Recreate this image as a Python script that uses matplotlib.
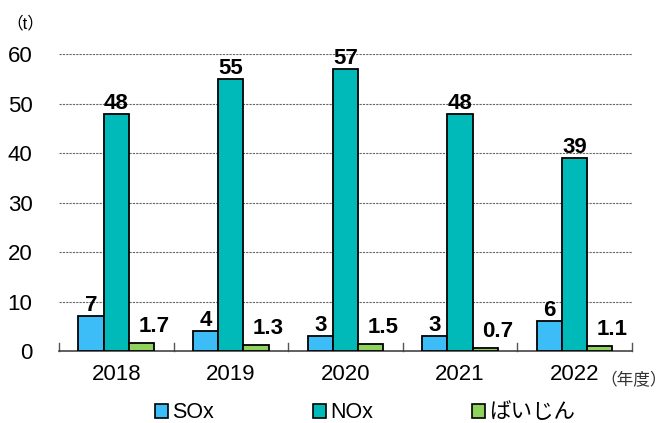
import numpy as np
import matplotlib.pyplot as plt
from matplotlib.patches import Patch

years = ["2018", "2019", "2020", "2021", "2022"]
sox = [7, 4, 3, 3, 6]
nox = [48, 55, 57, 48, 39]
dust = [1.7, 1.3, 1.5, 0.7, 1.1]
dust_labels = ["1.7", "1.3", "1.5", "0.7", "1.1"]

series_names = ["SOx", "NOx", "ばいじん"]
colors = ["#3DBDF7", "#00BABA", "#8FD35E"]

plt.rcParams['font.family'] = ['Liberation Sans', 'Noto Sans CJK JP', 'DejaVu Sans']

fig = plt.figure(figsize=(6.7, 4.23), dpi=100)
ax = fig.add_axes([0.088, 0.170, 0.855, 0.702])

x = np.arange(len(years))
w = 0.22
offsets = [-w, 0, w]

for vals, off, c in zip([sox, nox, dust], offsets, colors):
    ax.bar(x + off, vals, width=w, color=c, edgecolor="black", linewidth=1.3, zorder=3)

# value labels
lbl = dict(ha="center", va="bottom", fontsize=16, fontweight="bold", zorder=4,
           textcoords="offset points")
for i in range(len(years)):
    ax.annotate(str(sox[i]), (x[i] - w, sox[i]), xytext=(0, 0), **lbl)
    ax.annotate(str(nox[i]), (x[i], nox[i]), xytext=(0, 0), **lbl)
    ax.annotate(dust_labels[i], (x[i] + w, dust[i]), xytext=(9, 4), **lbl)

ax.set_xlim(-0.5, len(years) - 0.5)
ax.set_ylim(0, 60)
ax.set_yticks(range(0, 61, 10))
ax.tick_params(axis="y", length=0, labelsize=16, pad=19)
ax.set_xticks(x)
ax.set_xticklabels(years)
ax.tick_params(axis="x", length=0, labelsize=16, pad=9)

# separators between year groups on the baseline
for b in np.arange(-0.5, len(years), 1.0):
    ax.plot([b, b], [0, 1.6], color="#555555", linewidth=1, clip_on=False, zorder=2)

for gy in range(10, 61, 10):
    ax.axhline(gy, color="#666666", linestyle=(0, (2, 1)), linewidth=0.8, zorder=1)

for s in ["top", "right", "left"]:
    ax.spines[s].set_visible(False)
ax.spines["bottom"].set_color("#444444")
ax.spines["bottom"].set_linewidth(1.2)

fig.text(0.010, 0.945, "（t）", fontsize=12, ha="left", va="center")
fig.text(0.996, 0.102, "（年度）", fontsize=12, ha="right", va="center", color="#333333")

handles = [Patch(facecolor=c, edgecolor="black", linewidth=1.2) for c in colors]
fig.legend(handles, series_names, loc="center", bbox_to_anchor=(0.545, 0.024), ncol=3,
           frameon=False, fontsize=15.5, handlelength=0.6, handleheight=0.6,
           handletextpad=0.2, columnspacing=4.6)

fig.savefig("out.png", dpi=100)
